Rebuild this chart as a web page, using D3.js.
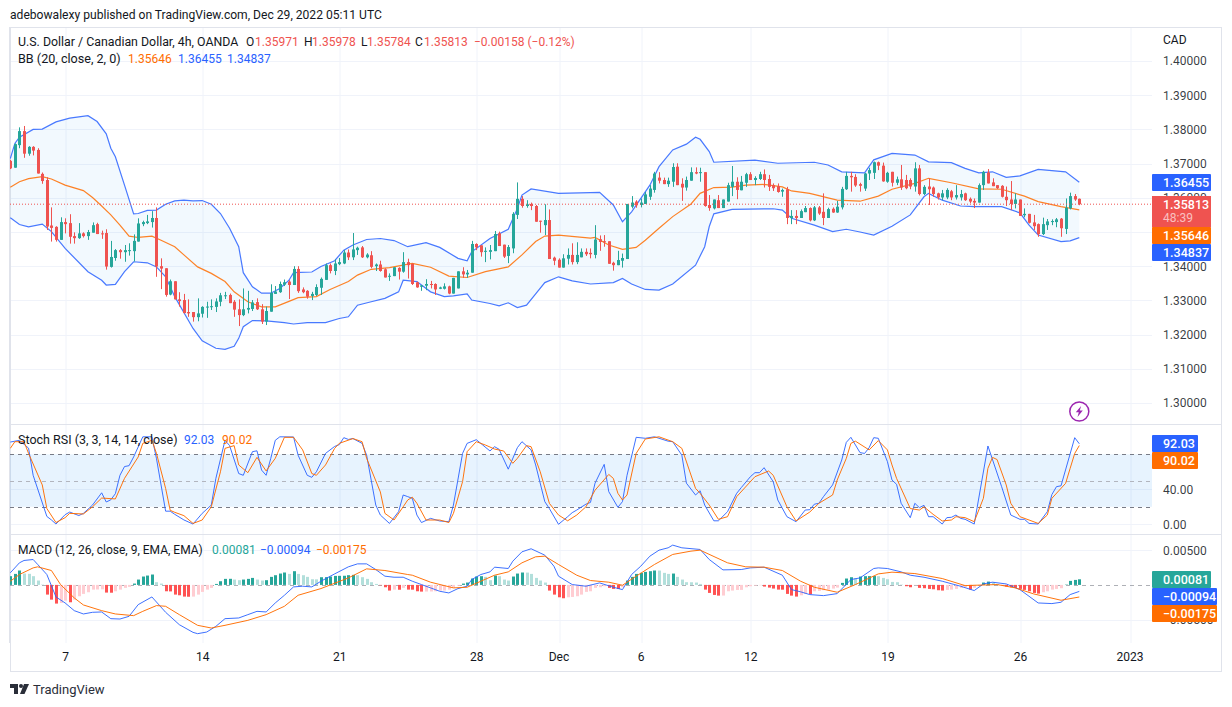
<!doctype html>
<html>
<head>
<meta charset="utf-8">
<style>
  html, body { margin: 0; background: #fff; }
  svg { display: block; }
  text { font-family: Roboto, sans-serif; }
  .domain { display: none; }
</style>
<script src="https://cdn.jsdelivr.net/npm/d3@7"></script>
</head>
<body>
<svg id="chart" width="1232" height="707"></svg>
<script>
/* globals d3 */
// open, high, low, close of each 4h bar
const candles = [
  [1.3708,1.3711,1.3684,1.3686],[1.3688,1.3759,1.3688,1.3757],[1.3754,1.3806,1.3745,1.3795],[1.3795,1.3810,1.3717,1.3729],
  [1.3729,1.3751,1.3723,1.3749],[1.3749,1.3751,1.3724,1.3738],[1.3740,1.3745,1.3671,1.3671],[1.3670,1.3674,1.3641,1.3649],
  [1.3652,1.3660,1.3506,1.3516],[1.3519,1.3572,1.3472,1.3512],[1.3515,1.3517,1.3472,1.3477],[1.3477,1.3543,1.3477,1.3529],
  [1.3529,1.3540,1.3496,1.3523],[1.3526,1.3552,1.3466,1.3486],[1.3488,1.3499,1.3466,1.3482],[1.3482,1.3526,1.3480,1.3496],
  [1.3496,1.3499,1.3484,1.3488],[1.3488,1.3506,1.3477,1.3500],[1.3498,1.3528,1.3498,1.3520],[1.3523,1.3527,1.3494,1.3494],
  [1.3496,1.3504,1.3480,1.3494],[1.3497,1.3508,1.3390,1.3399],[1.3398,1.3474,1.3396,1.3427],[1.3424,1.3450,1.3416,1.3447],
  [1.3447,1.3450,1.3422,1.3441],[1.3441,1.3462,1.3413,1.3447],[1.3445,1.3467,1.3431,1.3447],[1.3444,1.3493,1.3414,1.3474],
  [1.3472,1.3540,1.3472,1.3525],[1.3523,1.3533,1.3517,1.3529],[1.3526,1.3550,1.3523,1.3531],[1.3529,1.3561,1.3513,1.3541],
  [1.3541,1.3572,1.3369,1.3399],[1.3400,1.3423,1.3333,1.3393],[1.3394,1.3394,1.3311,1.3316],[1.3317,1.3361,1.3315,1.3356],
  [1.3356,1.3356,1.3303,1.3303],[1.3303,1.3324,1.3282,1.3298],[1.3301,1.3319,1.3262,1.3263],[1.3266,1.3303,1.3252,1.3262],
  [1.3266,1.3266,1.3238,1.3251],[1.3251,1.3306,1.3239,1.3262],[1.3261,1.3283,1.3250,1.3281],[1.3279,1.3296,1.3249,1.3282],
  [1.3281,1.3303,1.3272,1.3283],[1.3281,1.3306,1.3266,1.3297],[1.3296,1.3322,1.3283,1.3315],[1.3313,1.3325,1.3304,1.3315],
  [1.3316,1.3320,1.3292,1.3292],[1.3296,1.3301,1.3252,1.3273],[1.3274,1.3303,1.3225,1.3257],[1.3257,1.3335,1.3254,1.3274],
  [1.3273,1.3328,1.3262,1.3278],[1.3275,1.3301,1.3269,1.3294],[1.3295,1.3306,1.3272,1.3274],[1.3274,1.3289,1.3231,1.3238],
  [1.3238,1.3282,1.3228,1.3269],[1.3267,1.3347,1.3267,1.3322],[1.3319,1.3342,1.3319,1.3326],[1.3324,1.3355,1.3322,1.3348],
  [1.3346,1.3361,1.3342,1.3353],[1.3355,1.3359,1.3304,1.3345],[1.3345,1.3400,1.3345,1.3392],[1.3392,1.3400,1.3322,1.3327],
  [1.3332,1.3338,1.3321,1.3324],[1.3328,1.3330,1.3305,1.3311],[1.3313,1.3325,1.3301,1.3319],[1.3316,1.3347,1.3313,1.3339],
  [1.3337,1.3367,1.3316,1.3363],[1.3360,1.3408,1.3360,1.3403],[1.3403,1.3408,1.3379,1.3386],[1.3386,1.3420,1.3374,1.3408],
  [1.3406,1.3424,1.3403,1.3412],[1.3408,1.3447,1.3406,1.3440],[1.3440,1.3449,1.3418,1.3426],[1.3426,1.3497,1.3418,1.3449],
  [1.3447,1.3457,1.3433,1.3454],[1.3455,1.3459,1.3424,1.3426],[1.3426,1.3438,1.3423,1.3434],[1.3432,1.3444,1.3394,1.3398],
  [1.3400,1.3408,1.3386,1.3405],[1.3405,1.3416,1.3384,1.3386],[1.3391,1.3394,1.3367,1.3367],[1.3369,1.3379,1.3357,1.3372],
  [1.3371,1.3397,1.3371,1.3397],[1.3395,1.3397,1.3361,1.3384],[1.3384,1.3441,1.3381,1.3412],[1.3412,1.3422,1.3364,1.3403],
  [1.3407,1.3408,1.3345,1.3348],[1.3353,1.3355,1.3337,1.3338],[1.3340,1.3345,1.3328,1.3344],[1.3343,1.3362,1.3330,1.3348],
  [1.3348,1.3357,1.3335,1.3345],[1.3348,1.3350,1.3316,1.3332],[1.3334,1.3340,1.3333,1.3338],[1.3334,1.3350,1.3332,1.3341],
  [1.3341,1.3343,1.3318,1.3320],[1.3320,1.3366,1.3320,1.3366],[1.3335,1.3385,1.3335,1.3385],[1.3385,1.3397,1.3366,1.3376],
  [1.3376,1.3389,1.3366,1.3381],[1.3381,1.3474,1.3381,1.3465],[1.3465,1.3467,1.3447,1.3455],[1.3461,1.3461,1.3428,1.3441],
  [1.3442,1.3455,1.3412,1.3445],[1.3442,1.3462,1.3420,1.3447],[1.3444,1.3503,1.3444,1.3494],[1.3496,1.3501,1.3459,1.3459],
  [1.3463,1.3463,1.3424,1.3428],[1.3430,1.3462,1.3409,1.3456],[1.3452,1.3558,1.3438,1.3553],[1.3550,1.3645,1.3538,1.3597],
  [1.3597,1.3605,1.3571,1.3576],[1.3576,1.3593,1.3571,1.3581],[1.3582,1.3586,1.3564,1.3576],[1.3576,1.3579,1.3530,1.3530],
  [1.3533,1.3533,1.3498,1.3530],[1.3520,1.3581,1.3491,1.3535],[1.3535,1.3566,1.3421,1.3421],[1.3425,1.3428,1.3403,1.3416],
  [1.3419,1.3423,1.3396,1.3396],[1.3396,1.3435,1.3396,1.3423],[1.3422,1.3452,1.3405,1.3433],[1.3433,1.3467,1.3405,1.3412],
  [1.3412,1.3470,1.3406,1.3433],[1.3426,1.3452,1.3426,1.3442],[1.3442,1.3452,1.3430,1.3435],[1.3439,1.3452,1.3423,1.3435],
  [1.3433,1.3520,1.3423,1.3478],[1.3479,1.3490,1.3445,1.3471],[1.3473,1.3491,1.3457,1.3471],[1.3473,1.3473,1.3407,1.3407],
  [1.3410,1.3413,1.3387,1.3403],[1.3403,1.3445,1.3403,1.3418],[1.3416,1.3437,1.3396,1.3424],[1.3421,1.3582,1.3421,1.3582],
  [1.3574,1.3605,1.3569,1.3586],[1.3589,1.3593,1.3571,1.3578],[1.3579,1.3598,1.3572,1.3586],[1.3582,1.3617,1.3582,1.3610],
  [1.3603,1.3637,1.3594,1.3627],[1.3623,1.3676,1.3615,1.3671],[1.3659,1.3675,1.3642,1.3650],[1.3652,1.3659,1.3640,1.3640],
  [1.3640,1.3659,1.3632,1.3650],[1.3647,1.3701,1.3632,1.3690],[1.3691,1.3701,1.3637,1.3637],[1.3641,1.3657,1.3591,1.3630],
  [1.3630,1.3662,1.3621,1.3652],[1.3650,1.3689,1.3650,1.3675],[1.3675,1.3689,1.3669,1.3671],[1.3673,1.3688,1.3647,1.3675],
  [1.3675,1.3675,1.3574,1.3576],[1.3579,1.3608,1.3562,1.3570],[1.3569,1.3595,1.3566,1.3595],[1.3593,1.3608,1.3570,1.3570],
  [1.3570,1.3595,1.3570,1.3595],[1.3589,1.3644,1.3589,1.3637],[1.3632,1.3693,1.3605,1.3647],[1.3647,1.3660,1.3596,1.3623],
  [1.3622,1.3664,1.3622,1.3647],[1.3644,1.3673,1.3632,1.3669],[1.3669,1.3675,1.3652,1.3652],[1.3652,1.3663,1.3637,1.3658],
  [1.3655,1.3676,1.3652,1.3669],[1.3669,1.3683,1.3630,1.3652],[1.3655,1.3667,1.3620,1.3632],[1.3637,1.3642,1.3620,1.3628],
  [1.3634,1.3642,1.3615,1.3617],[1.3618,1.3627,1.3603,1.3623],[1.3625,1.3632,1.3523,1.3541],[1.3541,1.3564,1.3523,1.3547],
  [1.3547,1.3564,1.3523,1.3541],[1.3541,1.3566,1.3541,1.3561],[1.3558,1.3576,1.3558,1.3570],[1.3570,1.3572,1.3531,1.3534],
  [1.3534,1.3576,1.3532,1.3572],[1.3572,1.3576,1.3550,1.3554],[1.3559,1.3613,1.3520,1.3541],[1.3541,1.3571,1.3541,1.3567],
  [1.3568,1.3572,1.3556,1.3557],[1.3557,1.3591,1.3556,1.3574],[1.3572,1.3632,1.3566,1.3626],[1.3625,1.3676,1.3623,1.3664],
  [1.3664,1.3676,1.3618,1.3660],[1.3661,1.3669,1.3632,1.3636],[1.3640,1.3644,1.3618,1.3635],[1.3627,1.3673,1.3620,1.3671],
  [1.3671,1.3688,1.3652,1.3681],[1.3673,1.3706,1.3655,1.3704],[1.3704,1.3706,1.3681,1.3694],[1.3694,1.3703,1.3647,1.3648],
  [1.3647,1.3676,1.3644,1.3673],[1.3676,1.3676,1.3633,1.3644],[1.3644,1.3662,1.3637,1.3654],[1.3654,1.3696,1.3623,1.3630],
  [1.3652,1.3667,1.3625,1.3628],[1.3652,1.3657,1.3625,1.3633],[1.3633,1.3704,1.3618,1.3686],[1.3686,1.3696,1.3607,1.3611],
  [1.3611,1.3637,1.3608,1.3632],[1.3633,1.3657,1.3579,1.3625],[1.3630,1.3633,1.3603,1.3611],[1.3613,1.3615,1.3595,1.3601],
  [1.3601,1.3623,1.3593,1.3613],[1.3601,1.3628,1.3596,1.3623],[1.3619,1.3623,1.3593,1.3601],[1.3601,1.3637,1.3595,1.3608],
  [1.3601,1.3623,1.3592,1.3611],[1.3613,1.3615,1.3591,1.3593],[1.3597,1.3601,1.3584,1.3589],[1.3591,1.3598,1.3570,1.3586],
  [1.3586,1.3642,1.3586,1.3637],[1.3637,1.3679,1.3623,1.3676],[1.3674,1.3684,1.3642,1.3642],[1.3645,1.3657,1.3634,1.3634],
  [1.3637,1.3637,1.3626,1.3628],[1.3635,1.3637,1.3601,1.3603],[1.3603,1.3633,1.3576,1.3593],[1.3595,1.3649,1.3564,1.3582],
  [1.3582,1.3613,1.3569,1.3595],[1.3595,1.3595,1.3547,1.3547],[1.3549,1.3569,1.3543,1.3553],[1.3553,1.3553,1.3525,1.3527],
  [1.3528,1.3550,1.3506,1.3517],[1.3523,1.3525,1.3486,1.3494],[1.3494,1.3542,1.3491,1.3523],[1.3520,1.3538,1.3506,1.3531],
  [1.3529,1.3537,1.3520,1.3532],[1.3529,1.3541,1.3514,1.3537],[1.3539,1.3541,1.3486,1.3511],[1.3509,1.3598,1.3494,1.3571],
  [1.3569,1.3615,1.3566,1.3605],[1.3605,1.3611,1.3591,1.3595],[1.35971,1.35978,1.35784,1.35813]
]
const lastClose = 1.35813

// Bollinger bands, read as [bar, price] at the turning points
const bbUpper = [
  [0,1.3715],[1,1.3759],[2,1.3777],[5,1.3800],[7,1.3801],[10,1.3822],[13,1.3833],[17,1.3840],[19,1.3823],[21,1.3787],
  [22,1.3745],[23,1.3720],[25,1.3637],[27,1.3553],[28,1.3554],[30,1.3563],[32,1.3564],[34,1.3581],[36,1.3591],[38,1.3593],
  [40,1.3591],[42,1.3592],[44,1.3581],[46,1.3554],[48,1.3511],[50,1.3457],[51,1.3381],[53,1.3340],[55,1.3321],[57,1.3321],
  [59,1.3335],[61,1.3359],[62,1.3381],[66,1.3383],[68,1.3399],[71,1.3416],[73,1.3447],[75,1.3462],[78,1.3478],[81,1.3481],
  [84,1.3475],[87,1.3457],[91,1.3469],[94,1.3455],[98,1.3423],[100,1.3416],[101,1.3442],[105,1.3481],[109,1.3508],[111,1.3569],
  [112,1.3608],[114,1.3626],[120,1.3613],[127,1.3615],[129,1.3616],[132,1.3579],[134,1.3530],[136,1.3559],[140,1.3637],[142,1.3691],
  [145,1.3740],[148,1.3757],[150,1.3777],[151,1.3771],[153,1.3735],[154,1.3704],[163,1.3710],[168,1.3701],[176,1.3704],[179,1.3696],
  [182,1.3676],[187,1.3673],[189,1.3711],[193,1.3730],[198,1.3725],[201,1.3705],[206,1.3703],[209,1.3686],[212,1.3673],[215,1.3676],
  [218,1.3660],[221,1.3664],[225,1.3683],[231,1.3676],[234,1.36455]
]
const bbBasis = [
  [0,1.3631],[2,1.3647],[4,1.3656],[7,1.3662],[9,1.3655],[12,1.3637],[16,1.3621],[18,1.3601],[20,1.3576],[22,1.3550],
  [24,1.3520],[26,1.3488],[28,1.3484],[31,1.3488],[33,1.3476],[36,1.3457],[38,1.3433],[41,1.3398],[44,1.3379],[47,1.3355],
  [49,1.3325],[52,1.3296],[55,1.3281],[58,1.3281],[61,1.3297],[63,1.3308],[67,1.3311],[70,1.3332],[74,1.3355],[76,1.3374],
  [79,1.3391],[83,1.3396],[88,1.3408],[92,1.3397],[96,1.3371],[100,1.3367],[104,1.3384],[109,1.3398],[112,1.3433],[115,1.3472],
  [117,1.3488],[120,1.3491],[127,1.3482],[128,1.3484],[131,1.3462],[134,1.3449],[137,1.3455],[139,1.3476],[142,1.3511],[145,1.3545],
  [149,1.3582],[151,1.3613],[154,1.3630],[158,1.3631],[161,1.3637],[165,1.3639],[169,1.3632],[171,1.3620],[175,1.3613],[181,1.3593],
  [186,1.3590],[190,1.3605],[193,1.3625],[198,1.3642],[201,1.3657],[206,1.3644],[212,1.3626],[217,1.3625],[222,1.3605],[225,1.3589],
  [230,1.3574],[234,1.35646]
]
const bbLower = [
  [0,1.3542],[2,1.3522],[4,1.3515],[7,1.3523],[9,1.3501],[12,1.3452],[17,1.3384],[20,1.3359],[21,1.3345],[23,1.3347],
  [25,1.3384],[27,1.3413],[30,1.3410],[32,1.3398],[34,1.3369],[36,1.3311],[40,1.3218],[42,1.3182],[45,1.3160],[47,1.3157],
  [49,1.3166],[50,1.3189],[51,1.3223],[53,1.3241],[56,1.3240],[60,1.3235],[62,1.3231],[65,1.3235],[69,1.3235],[72,1.3247],
  [74,1.3252],[76,1.3286],[79,1.3296],[82,1.3306],[85,1.3325],[86,1.3359],[89,1.3355],[92,1.3325],[95,1.3311],[97,1.3313],
  [100,1.3319],[101,1.3301],[105,1.3291],[107,1.3284],[109,1.3293],[111,1.3279],[113,1.3286],[115,1.3319],[117,1.3352],[120,1.3369],
  [123,1.3357],[127,1.3348],[132,1.3352],[134,1.3364],[136,1.3348],[139,1.3332],[142,1.3330],[145,1.3348],[150,1.3403],[152,1.3457],
  [153,1.3516],[154,1.3553],[158,1.3566],[167,1.3568],[169,1.3564],[171,1.3540],[176,1.3520],[180,1.3501],[183,1.3508],[186,1.3500],
  [189,1.3491],[193,1.3517],[197,1.3550],[200,1.3603],[201,1.3613],[204,1.3593],[208,1.3576],[211,1.3574],[217,1.3574],[221,1.3556],
  [223,1.3520],[225,1.3491],[230,1.3472],[232,1.3474],[234,1.34837]
]

// Stoch RSI, [bar, value]
const stochK = [
  [0,94],[2,96],[4,87],[5,56],[8,9],[9,5],[10,0.3],[12,11],[13,14],[15,10],[16,12.5],[18,22],[20,36],[21,25.5],[22,28],[23,35],
  [24,56],[25,66],[26,67],[27,77],[29,100],[31,100],[32,75],[34,15],[35,15],[36,11.4],[38,5],[40,0.3],[42,12.5],[44,22],[45,52.5],
  [47,96],[48,90],[50,58],[51,56],[53,83],[54,84],[55,62],[56,56],[57,75],[58,96],[59,100],[62,99.8],[63,79],[65,56],[66,53.7],
  [67,60],[69,81],[71,89],[72,91],[73,99],[74,97],[75,98],[77,92.5],[78,79],[80,22],[81,10.6],[83,1],[85,14.5],[86,33.5],[87,31.6],
  [88,29.7],[89,10.6],[90,2],[92,6.8],[94,3.8],[96,3],[97,22],[99,81],[100,92.5],[102,96.7],[105,83.8],[106,88.7],[107,85.7],
  [109,63],[111,87.6],[112,94.4],[114,85],[115,67.8],[117,25.9],[118,18],[120,0],[122,8.7],[123,13.3],[124,16.3],[126,23],[127,25],
  [128,47],[130,68.5],[131,37.3],[133,19.4],[134,25.9],[135,56],[137,99.4],[139,98.3],[141,100],[144,95],[145,94.4],[147,79],[148,47],
  [150,33.5],[151,38.4],[152,22],[154,4],[155,4],[157,14.4],[159,35.4],[160,41.9],[162,54.4],[163,59],[164,59],[165,64.7],[167,48.7],
  [168,27.8],[170,8.7],[172,3],[174,16.3],[175,16.7],[176,23],[177,24],[178,31.6],[180,45],[182,73.5],[183,93.7],[184,99.4],[186,81.9],
  [187,81],[188,87.6],[189,99],[190,98.3],[192,71.6],[193,50.6],[194,45.7],[195,24],[197,7.6],[198,24],[199,19],[200,21.7],[201,8.7],
  [202,8.7],[204,0.3],[205,7.6],[206,8],[207,10.6],[208,6.8],[209,5.7],[211,0.3],[214,89.5],[217,43],[219,10.6],[221,5.7],[222,5.7],
  [223,1],[225,0.3],[227,14.4],[228,34],[229,43],[230,44],[233,99],[234,92.03]
]
const stochD = [
  [0,86.8],[1,94.4],[3,94.4],[4,81],[7,45],[8,18],[10,2],[12,7.6],[13,12.5],[16,11.8],[18,20],[20,30],[23,29],[25,52.5],[28,77],
  [29,92.5],[31,96],[32,81],[34,41],[35,16],[36,13.7],[38,9.9],[40,1],[42,4.9],[44,20],[46,60],[47,86.8],[49,89.9],[50,67.8],[52,59],
  [54,76.5],[56,61],[58,75.4],[60,99.4],[62,99.4],[64,85],[66,58],[67,56],[69,67.8],[71,86.8],[72,92.5],[75,98],[77,94.4],[78,75.4],
  [81,37],[82,12.5],[84,4.9],[86,20],[87,27.8],[88,31],[89,24],[91,4.9],[94,4.9],[96,2],[97,12.5],[99,48.7],[100,83],[102,94.4],
  [104,90.6],[106,86],[108,83.8],[110,69.7],[111,75.4],[113,89.9],[114,88.7],[116,60],[118,24],[120,10.6],[122,4],[124,10.6],[126,20],
  [128,39],[131,57],[132,52.5],[133,35.4],[134,27.8],[135,33.5],[137,81],[139,97.5],[142,100],[145,94.4],[147,86.8],[150,41],[151,35.4],
  [153,22],[155,5.7],[157,8.7],[159,31.6],[163,54.4],[166,60.9],[167,56],[170,20],[172,3.8],[175,14],[177,24],[180,33.5],[181,50.6],
  [183,75.4],[184,92.5],[185,95],[188,85],[190,95.6],[192,85],[193,67.8],[194,52.5],[197,18],[199,16.3],[200,20],[202,11.4],[204,3.8],
  [206,4.9],[207,8.7],[209,7.6],[211,3],[213,29.7],[214,64],[215,76.5],[216,74],[218,45],[219,24],[221,8.7],[223,4.9],[225,1],[227,10.6],
  [228,29.7],[231,46.8],[232,64],[233,81],[234,90.02]
]

// MACD, in points of 0.00001
const macdHist = [
  126,159,208,164,160,126,63,5,-140,-213,-270,-261,-227,-251,-213,-164,-130,-106,-68,-66,-64,-111,-113,-92,-68,-43,-29,19,77,121,
  135,150,39,19,-92,-94,-140,-150,-169,-171,-169,-140,-101,-68,-43,14,53,87,88,77,68,77,87,101,77,63,68,116,140,164,
  179,159,198,159,140,116,82,80,111,112,121,130,131,132,140,145,140,111,87,39,14,-5,-34,-82,-68,-70,-43,-68,-69,-92,
  -97,-96,-95,-92,-82,-81,-68,-43,-10,19,34,92,121,126,116,68,135,126,77,63,121,164,179,178,159,101,63,34,-82,-140,
  -179,-193,-179,-174,-164,-140,-101,-92,-43,-34,-19,-43,-58,-59,-34,63,116,159,174,188,198,208,207,174,159,164,116,77,39,38,
  34,14,-68,-116,-145,-155,-154,-92,-82,-73,-72,-34,-19,-10,-5,-24,-39,-53,-68,-69,-130,-155,-169,-150,-130,-135,-92,-87,-77,-68,
  -53,-39,29,92,111,97,121,126,127,128,126,101,82,43,39,5,-19,-34,-5,-43,-48,-58,-63,-77,-82,-72,-68,-58,-43,-34,
  -68,-43,-5,34,48,39,14,-5,-24,-34,-43,-58,-72,-92,-116,-126,-106,-92,-68,-58,-48,5,58,72,81
]
const macdLine = [
  [0,174],[2,319],[3,353],[5,367],[6,295],[8,150],[10,-174],[12,-261],[14,-372],[16,-420],[18,-396],[20,-391],[22,-488],[24,-493],
  [26,-454],[28,-285],[31,-174],[34,-396],[37,-575],[40,-686],[41,-705],[43,-681],[45,-599],[47,-488],[50,-478],[52,-430],[54,-382],
  [56,-391],[58,-261],[60,-150],[62,-29],[64,-19],[66,-29],[68,53],[71,159],[74,261],[76,304],[78,304],[80,222],[82,126],[84,111],
  [86,111],[88,53],[90,5],[92,-43],[94,-92],[96,-116],[98,-53],[100,-19],[101,77],[103,150],[105,188],[106,256],[109,237],[110,343],
  [112,478],[114,522],[117,430],[119,270],[120,126],[123,5],[126,-19],[129,29],[132,-34],[134,-68],[136,150],[138,270],[140,415],
  [142,502],[144,536],[145,575],[147,536],[151,512],[153,367],[156,217],[160,222],[162,246],[165,256],[169,140],[171,-68],[173,-100],
  [175,-140],[178,-155],[181,-126],[184,77],[186,101],[189,237],[190,246],[192,237],[195,188],[197,140],[200,111],[204,53],[208,-19],
  [211,-82],[213,14],[215,39],[218,14],[221,-68],[225,-261],[228,-270],[230,-251],[232,-140],[234,-94]
]
const macdSignal = [
  [0,53],[2,150],[5,246],[6,261],[9,208],[11,5],[14,-188],[16,-290],[20,-372],[23,-420],[27,-444],[29,-382],[32,-299],[34,-309],
  [37,-430],[41,-584],[44,-623],[47,-584],[52,-512],[56,-430],[60,-309],[63,-150],[68,-53],[74,101],[78,232],[82,208],[87,150],
  [88,140],[92,39],[97,-43],[100,-34],[103,53],[106,140],[109,188],[112,319],[115,406],[117,415],[120,295],[124,140],[127,63],[131,39],
  [134,-5],[137,126],[141,295],[145,440],[149,488],[151,502],[157,319],[161,261],[165,256],[169,208],[173,53],[176,-34],[181,-106],
  [185,5],[190,159],[193,184],[198,164],[204,92],[209,-10],[216,5],[220,-43],[224,-130],[230,-222],[234,-175]
]

const priceTicks = [1.40,1.39,1.38,1.37,1.36,1.35,1.34,1.33,1.32,1.31,1.30]
const stochTicks = [40,0]
const macdTicks = [500,-500]
const timeBars = [12,42,72,102,120,138,162,192,221,245]
const timeLabels = ['7','14','21','28','Dec','6','12','19','26','2023']

const UP = '#26a69a', DOWN = '#ef5350', BLUE = '#2962ff', ORANGE = '#ff6d00', TEXT = '#131722'
const GRID = '#f0f3fa', BORDER = '#e0e3eb'
const paneLeft = 10, plotRight = 1152, frameRight = 1222, paneTop = 27, mainBottom = 424, stochBottom = 534, plotBottom = 643, frameBottom = 672

let svg = d3.select('#chart')
let x = d3.scaleLinear().domain([0, 234]).range([10.3, 1079.3])
let rx = i => Math.round(x(i)) + 0.5
let yMain = d3.scaleLinear().domain([1.40, 1.30]).range([61, 403])
let yStoch = d3.scaleLinear().domain([100, 0]).range([436.8, 524.3])
let yMacd = d3.scaleLinear().domain([500, -500]).range([550.3, 619.5])

// Panes clip what is drawn in them
let defs = svg.append('defs')
;[['clip-main', paneTop, mainBottom], ['clip-stoch', mainBottom, stochBottom], ['clip-macd', stochBottom, plotBottom]].forEach(([id, t, b]) => {
  defs.append('clipPath').attr('id', id).append('rect')
    .attr('x', paneLeft).attr('y', t).attr('width', plotRight - paneLeft).attr('height', b - t)
})

// Vertical grid and time labels
let timeAxis = d3.axisBottom(x).tickValues(timeBars)
  .tickFormat(d => timeLabels[timeBars.indexOf(d)])
  .tickSize(paneTop - plotBottom)
let gTime = svg.append('g').attr('transform', `translate(0,${plotBottom})`).call(timeAxis)
gTime.selectAll('line').attr('stroke', GRID).attr('transform', d => `translate(${rx(d) - x(d)},0)`)
gTime.selectAll('text').attr('fill', TEXT).attr('font-size', 12).attr('y', 18).attr('dy', 0)

// Horizontal grid and value labels, one axis per pane
let paneAxis = (scale, ticks, format) => {
  let g = svg.append('g').attr('transform', `translate(${plotRight},0)`)
    .call(d3.axisRight(scale).tickValues(ticks).tickFormat(format).tickSize(0).tickPadding(11))
  g.selectAll('text').attr('fill', TEXT).attr('font-size', 12).attr('fill-opacity', 0.85)
  svg.append('g').selectAll('line').data(ticks).join('line')
    .attr('x1', paneLeft).attr('x2', plotRight)
    .attr('y1', d => Math.round(scale(d)) + 0.5).attr('y2', d => Math.round(scale(d)) + 0.5)
    .attr('stroke', GRID)
}
// 1.35000 sits wholly behind the value badges, so it gets no label
paneAxis(yMain, priceTicks, d => d === 1.35 ? '' : d3.format('.5f')(d))
paneAxis(yStoch, stochTicks, d3.format('.2f'))
paneAxis(yMacd, macdTicks, d => (d / 1e5).toFixed(5).replace('-', '\u2212'))

// Frame and pane separators
svg.append('rect').attr('x', paneLeft + 0.5).attr('y', paneTop + 0.5)
  .attr('width', frameRight - paneLeft - 1).attr('height', frameBottom - paneTop - 1)
  .attr('fill', 'none').attr('stroke', BORDER).attr('stroke-width', 1)
svg.append('line').attr('x1', paneLeft).attr('x2', paneLeft).attr('y1', paneTop).attr('y2', plotBottom).attr('stroke', BORDER).attr('stroke-width', 2)
;[mainBottom, stochBottom].forEach(y => svg.append('line').attr('x1', paneLeft).attr('x2', frameRight)
  .attr('y1', y + 0.5).attr('y2', y + 0.5).attr('stroke', BORDER))

// --- main pane
let main = svg.append('g').attr('clip-path', 'url(#clip-main)')
let bbLine = d3.line().x(d => x(d[0])).y(d => yMain(d[1]))
main.append('path').attr('d', bbLine(bbUpper.concat(bbLower.slice().reverse())) + 'Z')
  .attr('fill', '#2196f3').attr('fill-opacity', 0.06)
main.append('path').attr('d', bbLine(bbUpper)).attr('fill', 'none').attr('stroke', BLUE).attr('stroke-width', 1.2).attr('stroke-opacity', 0.85)
main.append('path').attr('d', bbLine(bbLower)).attr('fill', 'none').attr('stroke', BLUE).attr('stroke-width', 1.2).attr('stroke-opacity', 0.85)
main.append('path').attr('d', bbLine(bbBasis)).attr('fill', 'none').attr('stroke', ORANGE).attr('stroke-width', 1.2).attr('stroke-opacity', 0.85)

let candle = main.append('g').selectAll('g').data(candles).join('g')
  .attr('fill', d => d[3] >= d[0] ? UP : DOWN)
candle.append('rect').attr('x', (d, i) => rx(i) - 0.5).attr('width', 1)
  .attr('y', d => yMain(d[1])).attr('height', d => yMain(d[2]) - yMain(d[1]))
candle.append('rect').attr('x', (d, i) => rx(i) - 1.5).attr('width', 3)
  .attr('y', d => yMain(Math.max(d[0], d[3])))
  .attr('height', d => Math.max(1, Math.abs(yMain(d[0]) - yMain(d[3]))))

main.append('line').attr('x1', paneLeft).attr('x2', plotRight)
  .attr('y1', yMain(lastClose)).attr('y2', yMain(lastClose))
  .attr('stroke', DOWN).attr('stroke-dasharray', '1 2')

// Lightning badge above the last bar
let bolt = main.append('g').attr('transform', `translate(${x(234)},411.5)`)
bolt.append('circle').attr('r', 9.5).attr('fill', '#fff').attr('stroke', '#9c27b0').attr('stroke-width', 1.5)
bolt.append('path').attr('d', 'M1.8,-5.5 L-3.5,0.8 H-0.5 L-1.8,5.5 L3.5,-1 H0.5 Z').attr('fill', '#9c27b0')

// --- stoch pane
let stoch = svg.append('g').attr('clip-path', 'url(#clip-stoch)')
stoch.append('rect').attr('x', paneLeft).attr('width', plotRight - paneLeft)
  .attr('y', yStoch(80)).attr('height', yStoch(20) - yStoch(80))
  .attr('fill', '#2196f3').attr('fill-opacity', 0.11)
;[[80, '#787b86'], [50, '#b2b5be'], [20, '#787b86']].forEach(([v, c]) => {
  stoch.append('line').attr('x1', paneLeft).attr('x2', plotRight)
    .attr('y1', Math.round(yStoch(v)) + 0.5).attr('y2', Math.round(yStoch(v)) + 0.5)
    .attr('stroke', c).attr('stroke-dasharray', '4 4')
})
let stochPath = d3.line().x(d => x(d[0])).y(d => yStoch(d[1]))
stoch.append('path').attr('d', stochPath(stochK)).attr('fill', 'none').attr('stroke', BLUE).attr('stroke-opacity', 0.9)
stoch.append('path').attr('d', stochPath(stochD)).attr('fill', 'none').attr('stroke', ORANGE).attr('stroke-opacity', 0.95)

// --- macd pane
let macd = svg.append('g').attr('clip-path', 'url(#clip-macd)')
macd.append('line').attr('x1', paneLeft).attr('x2', plotRight)
  .attr('y1', Math.round(yMacd(0)) + 0.5).attr('y2', Math.round(yMacd(0)) + 0.5)
  .attr('stroke', '#787b86').attr('stroke-opacity', 0.6).attr('stroke-dasharray', '4 4')
let histColor = (v, i) => {
  let prev = i ? macdHist[i - 1] : 0
  if (v >= 0) return v >= prev ? '#26a69a' : '#b2dfdb'
  return v < prev ? '#ff5252' : '#ffcdd2'
}
macd.append('g').selectAll('rect').data(macdHist).join('rect')
  .attr('x', (d, i) => rx(i) - 1.5).attr('width', 3)
  .attr('y', d => Math.min(yMacd(d), yMacd(0)))
  .attr('height', d => Math.abs(yMacd(d) - yMacd(0)))
  .attr('fill', histColor)
let macdPath = d3.line().x(d => x(d[0])).y(d => yMacd(d[1]))
macd.append('path').attr('d', macdPath(macdLine)).attr('fill', 'none').attr('stroke', BLUE).attr('stroke-opacity', 0.9)
macd.append('path').attr('d', macdPath(macdSignal)).attr('fill', 'none').attr('stroke', ORANGE).attr('stroke-opacity', 0.95)

// --- text
let label = (txt, tx, ty, fill = TEXT, size = 12, weight = 400, anchor = 'start') =>
  svg.append('text').attr('x', tx).attr('y', ty).attr('fill', fill).attr('font-size', size)
    .attr('font-weight', weight).attr('text-anchor', anchor).text(txt)

label('adebowalexy published on TradingView.com, Dec 29, 2022 05:11 UTC', 10, 19, TEXT, 12.1)
label('U.S. Dollar / Canadian Dollar, 4h, OANDA', 18, 46, TEXT, 12.35)
;[['O', 246, TEXT], ['1.35971', 255, DOWN], ['H', 304, TEXT], ['1.35978', 312, DOWN], ['L', 361, TEXT], ['1.35784', 367, DOWN],
  ['C', 415, TEXT], ['1.35813', 424, DOWN], ['\u22120.00158 (\u22120.12%)', 474, DOWN]].forEach(([t, tx, c]) => label(t, tx, 46, c))
label('BB (20, close, 2, 0)', 18, 63, TEXT, 12.6)
label('1.35646', 128, 63, ORANGE)
label('1.36455', 178, 63, BLUE)
label('1.34837', 227, 63, BLUE)
label('CAD', 1163, 44)

label('Stoch RSI (3, 3, 14, 14, close)', 18, 444, TEXT, 12.5)
label('92.03', 184, 444, BLUE)
label('90.02', 222, 444, ORANGE)
label('MACD (12, 26, close, 9, EMA, EMA)', 18, 554)
label('0.00081', 212, 554, UP)
label('\u22120.00094', 260, 554, BLUE)
label('\u22120.00175', 316, 554, ORANGE)

// Value badges on the right scale
let badge = (t, y0, y1, w, fill) => {
  svg.append('rect').attr('x', plotRight).attr('y', y0).attr('width', w).attr('height', y1 - y0).attr('fill', fill).attr('rx', 1)
  label(t, plotRight + 11, (y0 + y1) / 2 + 4.5, '#fff', 12.5, 500)
}
badge('1.36455', 174, 191, 59, BLUE)
svg.append('rect').attr('x', plotRight).attr('y', 196).attr('width', 59).attr('height', 31.5).attr('fill', DOWN)
label('1.35813', plotRight + 11, 209, '#fff', 12.5, 500)
label('48:39', plotRight + 11, 222, '#fff', 12, 400).attr('fill-opacity', 0.65)
badge('1.35646', 227, 244, 59, ORANGE)
badge('1.34837', 244, 261, 59, BLUE)
badge('92.03', 435, 452, 46, BLUE)
badge('90.02', 452, 469, 46, ORANGE)
badge('0.00081', 571, 588, 59, UP)
badge('\u22120.00094', 588, 605, 65, BLUE)
badge('\u22120.00175', 605, 622, 65, ORANGE)

// TradingView logo
let logo = svg.append('g').attr('fill', '#2a2e39')
logo.append('path').attr('d', 'M10,684 H18 V694 H14 V688 H10 Z')
logo.append('circle').attr('cx', 21).attr('cy', 686).attr('r', 2)
logo.append('path').attr('d', 'M24,684 H29 L24.5,694 H20 Z')
label('TradingView', 33, 694, '#2a2e39', 13, 400)
</script>
</body>
</html>
